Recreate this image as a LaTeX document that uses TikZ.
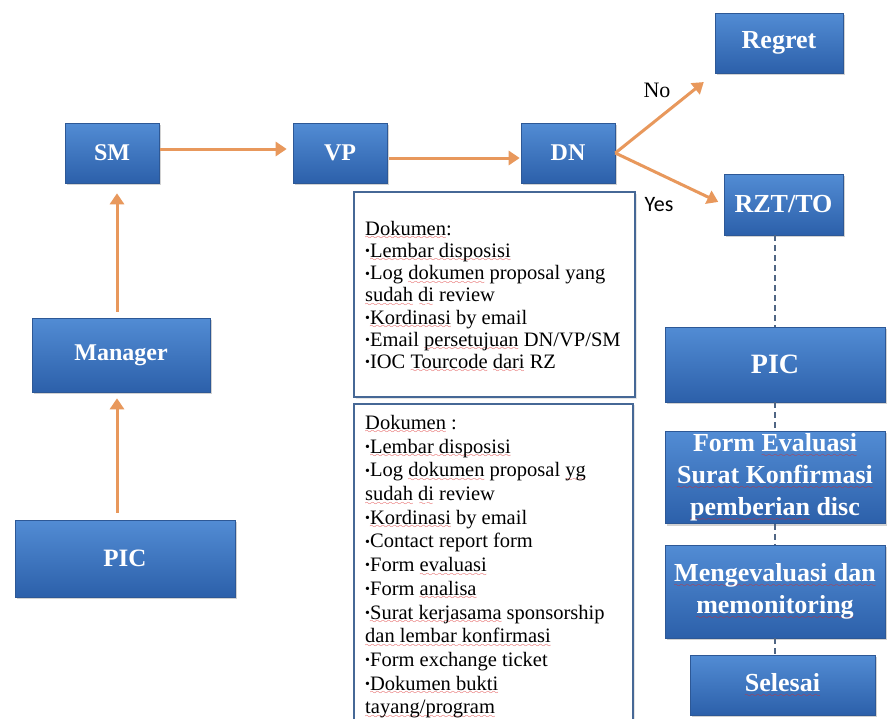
\documentclass[tikz,border=0pt]{standalone}
\usepackage{fontspec}
\setmainfont{Liberation Serif}
\newfontfamily\calibri{Carlito}
\usetikzlibrary{arrows.meta,shadows,calc}

\definecolor{boxtop}{RGB}{82,140,212}
\definecolor{boxbot}{RGB}{44,96,170}
\definecolor{boxedge}{RGB}{45,88,150}
\definecolor{flow}{RGB}{232,152,92}
\definecolor{docedge}{RGB}{70,104,150}
\definecolor{dashc}{RGB}{80,102,132}
\definecolor{spell}{RGB}{220,40,40}

% red wavy underline built from repeated wave glyphs
\font\wavefont=lasy8
\newlength\wavedrop
\setlength\wavedrop{4.5pt}
\newsavebox\wavebox
\newcommand\sqw[1]{\sbox\wavebox{#1}\rlap{\lower\wavedrop\hbox to\wd\wavebox{\color{spell}\wavefont\xleaders\hbox{\char58}\hfil}}\usebox{\wavebox}}
\newcommand\bul{\raisebox{0.08em}{\fontsize{14}{14}\selectfont\textbullet}}

\tikzset{
  stepbox/.style={rectangle, top color=boxtop, bottom color=boxbot, draw=boxedge,
    line width=0.6pt, drop shadow={opacity=0.35, shadow xshift=1.5pt, shadow yshift=-2pt},
    text=white, font=\bfseries\fontsize{24}{28}\selectfont, align=center, inner sep=2pt},
  bigbox/.style={stepbox, font=\bfseries\fontsize{26}{30}\selectfont},
  tallbox/.style={stepbox, font=\bfseries\fontsize{26}{32}\selectfont,
    execute at begin node={\setlength\wavedrop{6pt}}},
  flowarrow/.style={draw=flow, line width=3pt, -{Triangle[length=11pt,width=14pt]}},
  docbox/.style={draw=docedge, line width=1.8pt, fill=white,
    drop shadow={opacity=0.2, shadow xshift=1.5pt, shadow yshift=-1.5pt}},
  doctext/.style={align=left, inner sep=0pt},
  dashlink/.style={draw=dashc, line width=2.6pt, dash pattern=on 6pt off 4pt},
}

\begin{document}
\begin{tikzpicture}[x=1pt,y=-1pt]
\useasboundingbox[fill=white] (0,0) rectangle (894,718);

% left column and top row
\node[stepbox, minimum width=94, minimum height=60] (sm) at (112,153) {SM};
\node[stepbox, minimum width=178, minimum height=74] (mgr) at (121,355) {Manager};
\node[stepbox, font=\bfseries\fontsize{25}{28}\selectfont, minimum width=220, minimum height=77] (picL) at (125,558.5) {PIC};
\node[stepbox, minimum width=94, minimum height=60] (vp) at (340,153) {VP};
\node[stepbox, minimum width=94, minimum height=60] (dn) at (568,153) {DN};
\node[bigbox, minimum width=128, minimum height=60] (regret) at (779,43) {Regret};
\node[bigbox, minimum width=119, minimum height=61] (rzt) at (783.5,204.5) {RZT/TO};

% right column
\node[tallbox, font=\bfseries\fontsize{28}{32}\selectfont, minimum width=220, minimum height=75] (picR) at (775,364.5) {PIC};
\node[tallbox, minimum width=220, minimum height=85] (form) at (775,477.5)
  {Form \sqw{Evaluasi}\\ \sqw{Surat Konfirmasi}\\ \sqw{pemberian} disc};
\node[tallbox, minimum width=220, minimum height=93] (meng) at (775,591.5)
  {\sqw{Mengevaluasi dan}\\ \sqw{memonitoring}};
\node[tallbox, minimum width=185, minimum height=60] (sel) at (782.5,685) {\sqw{Selesai}};

% flow arrows
\draw[flowarrow, shorten <=7pt, shorten >=6pt] ([xshift=-4pt]mgr.south |- picL.north) -- ([xshift=-4pt]mgr.south);
\draw[flowarrow, shorten <=6pt, shorten >=10pt] ([xshift=-4pt]mgr.north) -- ([xshift=-4pt]mgr.north |- sm.south);
\draw[flowarrow, shorten <=1pt, shorten >=6pt] ([yshift=4pt]sm.east) -- ([yshift=4pt]vp.west);
\draw[flowarrow, shorten <=2pt, shorten >=1pt] ([yshift=-5pt]vp.east) -- ([yshift=-5pt]dn.west);
\draw[flowarrow, shorten >=14pt] (dn.east) -- (regret.south west);
\draw[flowarrow, shorten >=6pt] (dn.east) -- (rzt.west);

\node[font=\fontsize{22}{22}\selectfont, inner sep=0pt] (nolbl) at (657,90) {No};
\node[font=\calibri\fontsize{22}{22}\selectfont, inner sep=0pt] (yeslbl) at (659,205) {Yes};

% dashed links down the right column
\draw[dashlink] (rzt.south -| picR.north) -- (picR.north);
\draw[dashlink] (picR.south) -- (form.north);
\draw[dashlink] (form.south) -- (meng.north);
\draw[dashlink] (meng.south) -- (meng.south |- sel.north);

% document lists
\node[docbox, minimum width=281, minimum height=205] (doc1) at (494.5,294.5) {};
\node[doctext, font=\fontsize{20.5}{22.2}\selectfont, anchor=west] (doc1text) at (365,297) {%
\sqw{Dokumen}:\\
\bul\sqw{Lembar disposisi}\\
\bul Log \sqw{dokumen} proposal yang\\
\sqw{sudah} \sqw{di} review\\
\bul\sqw{Kordinasi} by email\\
\bul Email \sqw{persetujuan} DN/VP/SM\\
\bul IOC \sqw{Tourcode} \sqw{dari} RZ};

\node[docbox, anchor=north, minimum width=279, minimum height=340] (doc2) at (493.5,403) {};
\node[doctext, font=\fontsize{20.5}{23.7}\selectfont, anchor=north west] (doc2text) at (365,415) {%
\sqw{Dokumen} :\\
\bul\sqw{Lembar disposisi}\\
\bul Log \sqw{dokumen} proposal \sqw{yg}\\
\sqw{sudah} \sqw{di} review\\
\bul\sqw{Kordinasi} by email\\
\bul Contact report form\\
\bul Form \sqw{evaluasi}\\
\bul Form \sqw{analisa}\\
\bul\sqw{Surat kerjasama} sponsorship\\
\sqw{dan lembar konfirmasi}\\
\bul Form exchange ticket\\
\bul\sqw{Dokumen bukti}\\
\sqw{tayang/program}};
\end{tikzpicture}
\end{document}
